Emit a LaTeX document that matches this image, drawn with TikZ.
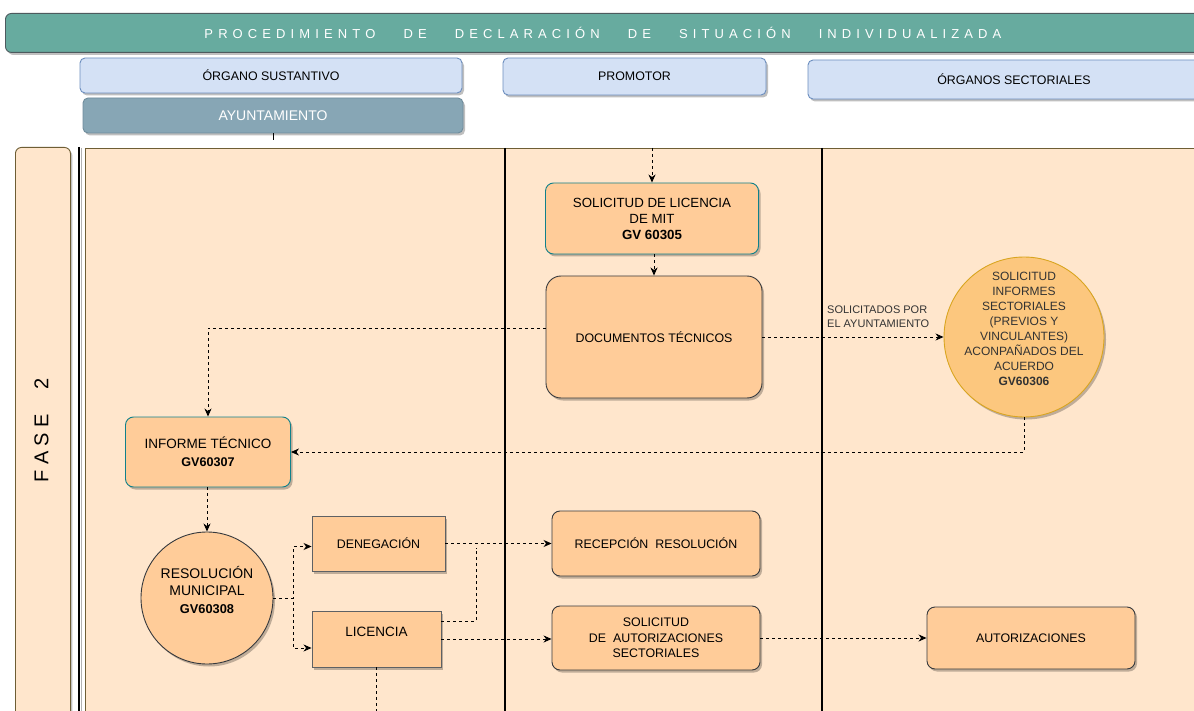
\documentclass[tikz,border=0pt]{standalone}
\usepackage{fontspec}
\setmainfont{Liberation Sans}
\usetikzlibrary{arrows.meta,shadows,calc}
\definecolor{titleFill}{HTML}{67AB9F}
\definecolor{titleDraw}{HTML}{4D5A5E}
\definecolor{hdrFill}{HTML}{D4E1F5}
\definecolor{hdrDraw}{HTML}{6C8EBF}
\definecolor{ayFill}{HTML}{87A6B5}
\definecolor{ayDraw}{HTML}{6F8C9C}
\definecolor{laneFill}{HTML}{FFE6CC}
\definecolor{laneDraw}{HTML}{6E5E35}
\definecolor{nodeFill}{HTML}{FFCC99}
\definecolor{nodeDraw}{HTML}{36393D}
\definecolor{tealDraw}{HTML}{10818B}
\definecolor{circFill}{HTML}{FCC77E}
\definecolor{circDraw}{HTML}{D9A520}
\definecolor{txtGray}{HTML}{333333}
\def\lspx#1{\ifx#1\relax\else#1\hspace{5.1pt}\expandafter\lspx\fi}
\newcommand\lsp[1]{\lspx#1\relax}
\newcommand\fA{\fontsize{12.4}{15.5}\selectfont}
\newcommand\fB{\fontsize{13.3}{16}\selectfont}
\newcommand\fC{\fontsize{13.5}{18}\selectfont}
\newcommand\fD{\fontsize{14}{17.5}\selectfont}
\newcommand\fE{\fontsize{12}{15}\selectfont}
\newcommand\fL{\fontsize{11}{14}\selectfont}
\newcommand\fT{\fontsize{13}{15}\selectfont}
\newcommand\fF{\fontsize{20}{24}\selectfont}
\begin{document}
\begin{tikzpicture}[x=1pt,y=-1pt,
  sh/.style={drop shadow={shadow xshift=2pt,shadow yshift=-2.5pt,opacity=0.25,fill=black}},
  titlebox/.style={draw=titleDraw,fill=titleFill,line width=0.9pt,rounded corners=6pt,sh,text=white,font=\fT,inner sep=0pt},
  hdr/.style={draw=hdrDraw,fill=hdrFill,line width=0.9pt,rounded corners=5pt,sh,font=\fA,inner sep=0pt},
  ay/.style={draw=ayDraw,fill=ayFill,line width=0.9pt,rounded corners=5pt,sh,font=\fontsize{14}{16}\selectfont,text=white,inner sep=0pt},
  fasebox/.style={draw=laneDraw,fill=laneFill,line width=0.9pt,rounded corners=6pt,sh,inner sep=0pt},
  lanebox/.style={draw=laneDraw,fill=laneFill,line width=0.9pt,inner sep=0pt},
  box/.style={draw=nodeDraw,fill=nodeFill,line width=0.9pt,rounded corners=8pt,align=center,inner sep=0pt,font=\fA,sh},
  tealbox/.style={box,draw=tealDraw},
  sqbox/.style={draw=nodeDraw!80,fill=nodeFill,line width=0.9pt,align=center,inner sep=0pt,font=\fA,sh},
  rcirc/.style={circle,draw=nodeDraw,fill=nodeFill,line width=0.9pt,inner sep=0pt,sh},
  ycirc/.style={circle,draw=circDraw,fill=circFill,line width=0.9pt,inner sep=0pt,sh},
  dsh/.style={draw=black,line width=0.9pt,dash pattern=on 3pt off 3pt},
  arr/.style={dsh,-{Stealth[length=8pt,width=7pt,inset=2.5pt]}},
]
\useasboundingbox (0,0) rectangle (1194,711);
\clip (0,0) rectangle (1194,711);
\fill[white] (0,0) rectangle (1194,711);

% title
\node[titlebox,minimum width=1195pt,minimum height=39pt,anchor=north west] (title) at (5,13)
  {\lsp{PROCEDIMIENTO}\hspace{23pt}\lsp{DE}\hspace{23pt}\lsp{DECLARACIÓN}\hspace{23pt}\lsp{DE}\hspace{23pt}\lsp{SITUACIÓN}\hspace{23pt}\lsp{INDIVIDUALIZADA}};

% headers
\node[hdr,minimum width=382pt,minimum height=35pt] (hOrg) at (271,75.5) {ÓRGANO SUSTANTIVO};
\node[hdr,minimum width=263pt,minimum height=37pt] (hProm) at (634.5,76.5) {PROMOTOR};
\node[hdr,minimum width=412pt,minimum height=39pt] (hSect) at (1014,79.5) {ÓRGANOS SECTORIALES};
\node[ay,minimum width=380pt,minimum height=35pt] (ayunt) at (273,115.5) {AYUNTAMIENTO};
\draw[line width=1pt] (ayunt.south) -- ++(0,7);

% phase and lanes
\node[fasebox,minimum width=55pt,minimum height=600pt,anchor=north west] (fase) at (15,147) {};
\node[rotate=90,anchor=west,inner sep=0pt,font=\fF] (faseT) at (41.5,483) {F\hspace{5.6pt}A\hspace{5.6pt}S\hspace{5.6pt}E\hspace{24pt}2};
\node[lanebox,minimum width=1120pt,minimum height=600pt,anchor=north west] (lane) at (85,148) {};
\draw[line width=1.3pt,black!30] (81.3,148) -- (81.3,711);
\draw[line width=1.8pt] (79,147) -- (79,711);
\draw[line width=1.6pt] (505,148) -- (505,711);
\draw[line width=1.6pt] (822,148) -- (822,711);

% nodes
\node[tealbox,font=\fB,minimum width=213pt,minimum height=71pt] (solLic) at (652,218.5)
  {SOLICITUD DE LICENCIA\\DE MIT\\\textbf{GV 60305}};
\node[box,rounded corners=15pt,minimum width=216pt,minimum height=122pt] (docTec) at (654,337) {DOCUMENTOS TÉCNICOS};
\node[ycirc,minimum size=160pt,
  label={[font=\fE,align=center,text=txtGray,yshift=8.5pt]center:{SOLICITUD\\INFORMES\\SECTORIALES\\(PREVIOS Y\\VINCULANTES)\\ACONPAÑADOS DEL\\ACUERDO\\\textbf{GV60306}}}] (circ) at (1024,337) {};
\node[anchor=south west,inner sep=0pt,align=left,font=\fL,text=txtGray] (lblSol) at (827,328) {SOLICITADOS POR\\EL AYUNTAMIENTO};
\node[tealbox,font=\fC,minimum width=165pt,minimum height=70pt] (infTec) at (208,452)
  {INFORME TÉCNICO\\\textbf{\fontsize{12.6}{18}\selectfont GV60307}};
\node[rcirc,minimum size=132pt,
  label={[font=\fD,align=center,yshift=8.3pt]center:{RESOLUCIÓN\\MUNICIPAL\\\textbf{\fontsize{12.8}{17.5}\selectfont GV60308}}}] (resMun) at (207,598) {};
\node[sqbox,minimum width=133pt,minimum height=55pt] (deneg) at (378.5,543.5) {DENEGACIÓN};
\node[sqbox,minimum width=129pt,minimum height=56pt,
  label={[font=\fC,yshift=7pt]center:LICENCIA}] (licen) at (376.5,639) {};
\node[box,minimum width=208pt,minimum height=65pt] (recep) at (656,543.5) {RECEPCIÓN\ \ RESOLUCIÓN};
\node[box,minimum width=208pt,minimum height=64pt] (solAut) at (656,638) {SOLICITUD\\DE\ \ AUTORIZACIONES\\SECTORIALES};
\node[box,minimum width=208pt,minimum height=62pt] (autor) at (1031,638) {AUTORIZACIONES};

% connectors
\coordinate (topIn) at (652,148);
\coordinate (licEnd) at (376.5,711);
\coordinate (junc) at ([xshift=31pt,yshift=-4pt]deneg.east);
\draw[arr] (topIn) -- (solLic.north);
\draw[arr] (solLic.south -| docTec.north) -- (docTec.north);
\draw[arr] ([yshift=9pt]docTec.west) -| (infTec.north);
\draw[arr] (docTec.east) -- (circ.west);
\draw[arr] (circ.south) |- (infTec.east);
\draw[arr] (infTec.south -| resMun.north) -- (resMun.north);
\draw[arr] (resMun.east) -- ++(20,0) |- ([yshift=-3pt]deneg.west);
\draw[arr] (resMun.east) -- ++(20,0) |- ([yshift=-9pt]licen.west);
\draw[arr] (deneg.east) -- (recep.west);
\draw[dsh] ([yshift=18pt]licen.east) -| (junc);
\draw[arr] (licen.east) -- (licen.east -| solAut.west);
\draw[arr] (solAut.east) -- (autor.west);
\draw[dsh] (licen.south) -- (licEnd);
\end{tikzpicture}
\end{document}
